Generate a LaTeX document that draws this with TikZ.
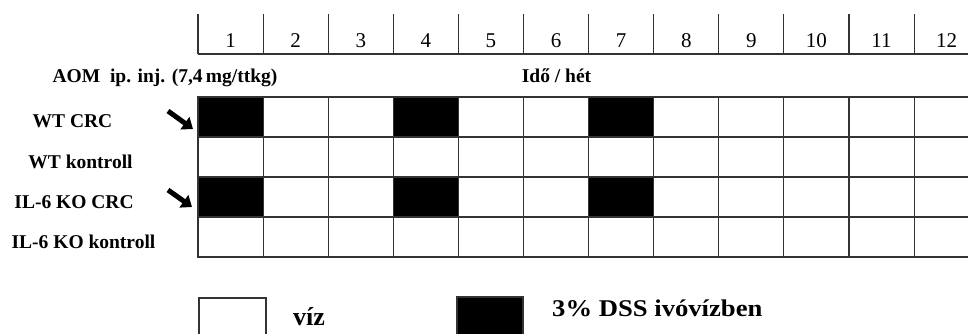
\documentclass[tikz,border=0pt]{standalone}
\usepackage{graphicx}
\usepackage{fontspec}
\setmainfont{Liberation Serif}
\usetikzlibrary{arrows.meta}
\begin{document}
\begin{tikzpicture}[x=1pt,y=-1pt,
  grid/.style={draw=black!80,line width=1.1pt},
  cell/.style={grid,minimum width=65.1pt,minimum height=40pt,inner sep=0pt,outer sep=0pt,anchor=north west},
  dss/.style={cell,fill=black},
  lab/.style={font=\bfseries\fontsize{19.5}{21}\selectfont,anchor=base,inner sep=0pt},
  num/.style={font=\fontsize{21}{22}\selectfont,anchor=base,inner sep=0pt},
  pointer/.style={line width=5pt,-{Triangle[length=10pt,width=15pt]}}]
\useasboundingbox (0,0) rectangle (968,334);
\clip (0,0) rectangle (968,334);
% header
\foreach \c in {1,...,12}{
  \pgfmathsetmacro\xx{198+65.1*(\c-1)}
  \coordinate (ht\c) at (\xx,14);
  \coordinate (hb\c) at (\xx,54);
  \draw[grid] (ht\c) -- (hb\c);
  \node[num] (n\c) at (\xx+32.55,48) {\c};
}
\coordinate (hend) at (968,54);
\draw[grid] (hb1) -- (hend);
% titles
\node[lab] (aom) at (165,83) {AOM\ \ ip. inj. (7,4\,mg/ttkg)};
\node[lab] (ido) at (556.5,83) {Idő / hét};
% grid
\foreach \r in {1,...,4}{
  \foreach \c in {1,...,12}{
    \pgfmathsetmacro\xx{198+65.1*(\c-1)}
    \pgfmathsetmacro\yy{57+40*\r}
    \pgfmathtruncatemacro\isd{(mod(\r,2)==1)*(mod(\c,3)==1)*(\c<8)}
    \ifnum\isd=1 \def\st{dss}\else\def\st{cell}\fi
    \node[\st] (c\r-\c) at (\xx,\yy) {};
  }
}
% row labels
\node[lab] (wtcrc) at (72.5,128) {WT CRC};
\node[lab] (wtk) at (80.5,168) {WT kontroll};
\node[lab] (kocrc) at (74,208) {IL-6 KO CRC};
\node[lab] (kok) at (83.5,248) {IL-6 KO kontroll};
% arrows
\coordinate (a1s) at (168,111);
\coordinate (a1e) at (193,129);
\coordinate (a2s) at (168,190);
\coordinate (a2e) at (192,207);
\draw[pointer] (a1s) -- (a1e);
\draw[pointer] (a2s) -- (a2e);
% legend
\node[cell,minimum width=67pt,minimum height=45pt] (vizbox) at (199,298) {};
\node[dss,minimum width=66pt,minimum height=45pt] (dssbox) at (457,297) {};
\node[lab,anchor=base west,font=\bfseries\fontsize{26}{28}\selectfont] (viz) at (293,325) {víz};
\node[lab,anchor=base west,font=\bfseries\fontsize{24}{26}\selectfont] (dsstxt) at (552,316) {\scalebox{1.11}[1]{3\% DSS ivóvízben}};
\end{tikzpicture}
\end{document}
